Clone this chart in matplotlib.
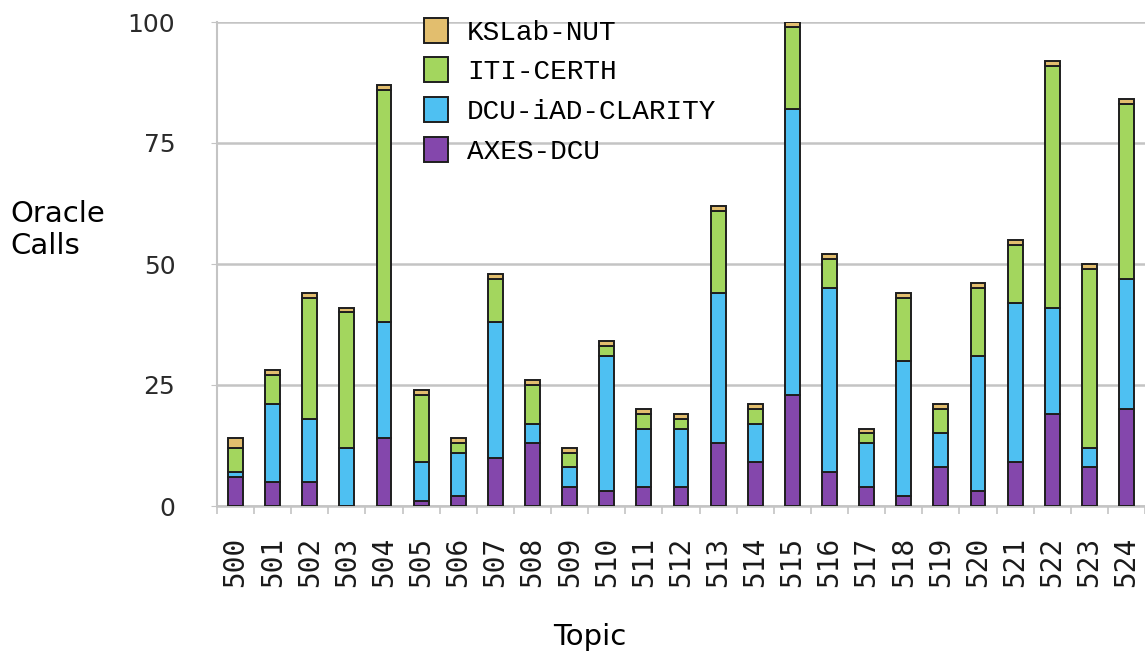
import matplotlib.pyplot as plt
import numpy as np

# Topics on the x axis
topics = [str(t) for t in range(500, 525)]

# Oracle calls per team (stacked, bottom to top)
axes_dcu = [6, 5, 5, 0, 14, 1, 2, 10, 13, 4, 3, 4, 4, 13, 9, 23, 7, 4, 2, 8, 3, 9, 19, 8, 20]
dcu_iad = [1, 16, 13, 12, 24, 8, 9, 28, 4, 4, 28, 12, 12, 31, 8, 59, 38, 9, 28, 7, 28, 33, 22, 4, 27]
iti_certh = [5, 6, 25, 28, 48, 14, 2, 9, 8, 3, 2, 3, 2, 17, 3, 17, 6, 2, 13, 5, 14, 12, 50, 37, 36]
kslab_nut = [2, 1, 1, 1, 1, 1, 1, 1, 1, 1, 1, 1, 1, 1, 1, 1, 1, 1, 1, 1, 1, 1, 1, 1, 1]

series = [
    ("AXES-DCU", axes_dcu, "#8447ac"),
    ("DCU-iAD-CLARITY", dcu_iad, "#4ec0f2"),
    ("ITI-CERTH", iti_certh, "#a3d65e"),
    ("KSLab-NUT", kslab_nut, "#e2be6e"),
]

fig = plt.figure(figsize=(11.45, 6.62), dpi=100)
ax = fig.add_axes([217 / 1145, 1 - 506 / 662, 1 - 217 / 1145, (506 - 22) / 662])

x = np.arange(len(topics))
bottom = np.zeros(len(topics))
handles = []
for name, vals, color in series:
    vals = np.array(vals)
    b = ax.bar(x, vals, width=0.4, bottom=bottom, color=color,
               edgecolor="#1e1e1e", linewidth=1.4, label=name, zorder=3)
    handles.append(b)
    bottom += vals

ax.set_xlim(-0.5, len(topics) - 0.5)
ax.set_ylim(0, 100)
ax.set_yticks([0, 25, 50, 75, 100])
ax.grid(axis="y", color="#c4c4c4", linewidth=1.8, zorder=0)

for s in ["top", "right"]:
    ax.spines[s].set_visible(False)
ax.spines["left"].set_color("#c4c4c4")
ax.spines["left"].set_linewidth(1.5)
ax.spines["bottom"].set_color("#c4c4c4")
ax.spines["bottom"].set_linewidth(1.8)

ax.tick_params(axis="y", length=4, color="#c4c4c4", pad=26, labelsize=18, labelcolor="#2a2a2a")
ax.set_xticks(x)
ax.set_xticklabels(topics, rotation=90, fontfamily="DejaVu Sans Mono", fontsize=20)
ax.tick_params(axis="x", which="major", length=0, pad=22, labelcolor="#1a1a1a")
ax.set_xticks(np.arange(len(topics) + 1) - 0.5, minor=True)
ax.tick_params(axis="x", which="minor", length=6, color="#c4c4c4", width=1.2)

fig.text(10 / 1145, 1 - 230 / 662, "Oracle\nCalls", fontsize=21, va="center", ha="left",
         linespacing=1.2)
fig.text(590 / 1145, 1 - 637 / 662, "Topic", fontsize=21, va="center", ha="center")

ax.legend(handles[::-1], [s[0] for s in series][::-1], loc="upper left",
          bbox_to_anchor=(410 / 1145, 1 - 4 / 662), bbox_transform=fig.transFigure,
          frameon=False, borderpad=0, handlelength=0.85, handleheight=1.0,
          labelspacing=0.42, handletextpad=0.7,
          prop={"family": "Liberation Mono", "size": 20})

fig.savefig("out.png", dpi=100)
